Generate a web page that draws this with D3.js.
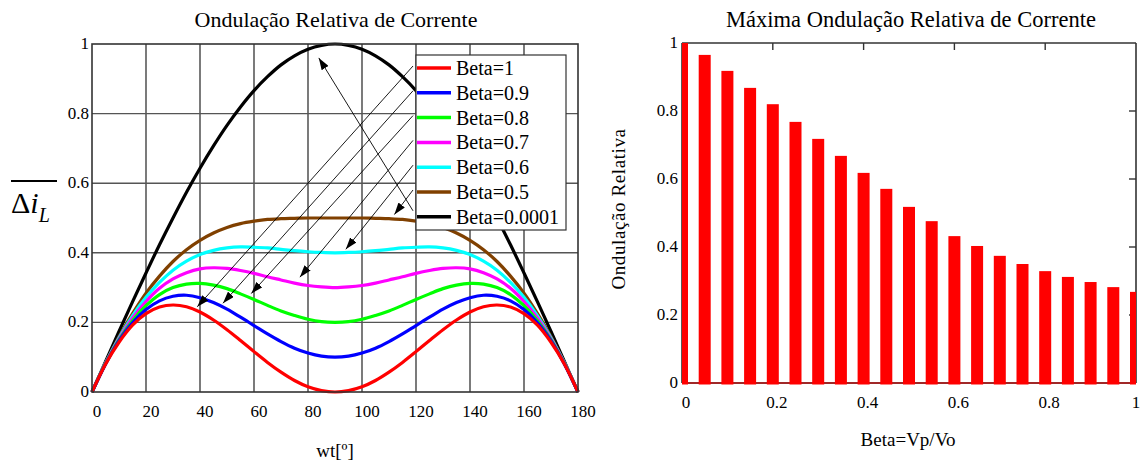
<!DOCTYPE html>
<html><head><meta charset="utf-8">
<script src="https://cdn.jsdelivr.net/npm/d3@7"></script>
<style>
body{margin:0;background:#fff;}
svg{font-family:"Liberation Serif","Times New Roman",serif;}
</style></head>
<body><svg id="c" width="1140" height="461"></svg>
<script>
// ---------- data ----------
const wt = [0,5,10,15,20,25,30,35,40,45,50,55,60,65,70,75,80,85,90,95,100,105,110,115,120,125,130,135,140,145,150,155,160,165,170,175,180];
const betaLabels = ["Beta=1","Beta=0.9","Beta=0.8","Beta=0.7","Beta=0.6","Beta=0.5","Beta=0.0001"];
const beta1   = [0,.080,.143,.192,.225,.244,.250,.245,.230,.207,.179,.148,.116,.085,.057,.033,.015,.004,0,.004,.015,.033,.057,.085,.116,.148,.179,.207,.230,.245,.250,.244,.225,.192,.143,.080,0];
const beta09  = [0,.080,.147,.199,.237,.262,.275,.278,.271,.257,.238,.215,.191,.167,.145,.126,.112,.103,.100,.103,.112,.126,.145,.167,.191,.215,.238,.257,.271,.278,.275,.262,.237,.199,.147,.080,0];
const beta08  = [0,.081,.150,.205,.248,.280,.300,.310,.312,.307,.297,.282,.266,.249,.233,.220,.209,.202,.200,.202,.209,.220,.233,.249,.266,.282,.297,.307,.312,.310,.300,.280,.248,.205,.150,.081,0];
const beta07  = [0,.082,.153,.212,.260,.298,.325,.343,.354,.357,.355,.349,.341,.331,.322,.313,.306,.302,.300,.302,.306,.313,.322,.331,.341,.349,.355,.357,.354,.343,.325,.298,.260,.212,.153,.082,0];
const beta06  = [0,.083,.156,.219,.272,.315,.350,.376,.395,.407,.414,.417,.416,.414,.410,.406,.403,.401,.400,.401,.403,.406,.410,.414,.416,.417,.414,.407,.395,.376,.350,.315,.272,.219,.156,.083,0];
const beta05  = [0,.083,.159,.225,.284,.333,.375,.409,.436,.457,.473,.484,.491,.496,.498,.499,.500,.500,.500,.500,.500,.499,.498,.496,.491,.484,.473,.457,.436,.409,.375,.333,.284,.225,.159,.083,0];
const beta0   = [0,.087,.174,.259,.342,.423,.500,.574,.643,.707,.766,.819,.866,.906,.940,.966,.985,.996,1.000,.996,.985,.966,.940,.906,.866,.819,.766,.707,.643,.574,.500,.423,.342,.259,.174,.087,0];
const curveColors = ["#ff0000","#0000ff","#00ff00","#ff00ff","#00ffff","#804000","#000000"];
const xTicksL = [0,20,40,60,80,100,120,140,160,180];
const yTicksL = [0,0.2,0.4,0.6,0.8,1];

const betaBar = [0,0.05,0.10,0.15,0.20,0.25,0.30,0.35,0.40,0.45,0.50,0.55,0.60,0.65,0.70,0.75,0.80,0.85,0.90,0.95,1.00];
const maxRipple = [1.0,0.965,0.918,0.868,0.820,0.768,0.718,0.668,0.618,0.571,0.518,0.476,0.432,0.403,0.374,0.350,0.329,0.312,0.297,0.282,0.268];
const xTicksR = [0,0.2,0.4,0.6,0.8,1];
const yTicksR = [0,0.2,0.4,0.6,0.8,1];
// arrows: [legend row index, target wt, target value]
const arrowTargets = [[0,39,0.245],[1,48.5,0.255],[2,59,0.283],[3,77,0.33],[4,94,0.41],[5,112,0.51],[6,84,0.96]];

const svg = d3.select("#c");
const fmt = d => d===0?"0":d===1?"1":String(d);

// ---------- left chart ----------
const L = {l:92, r:578, t:44, b:392};
const xL = d3.scaleLinear().domain([0,180]).range([L.l,L.r]);
const yL = d3.scaleLinear().domain([0,1]).range([L.b,L.t]);
const gL = svg.append("g");

// grid
gL.selectAll(".vg").data(xTicksL.slice(1,-1)).enter().append("line")
  .attr("x1",d=>xL(d)).attr("x2",d=>xL(d)).attr("y1",L.t).attr("y2",L.b)
  .attr("stroke","#222").attr("stroke-width",1.2);
gL.selectAll(".hg").data(yTicksL.slice(1,-1)).enter().append("line")
  .attr("x1",L.l).attr("x2",L.r).attr("y1",d=>yL(d)).attr("y2",d=>yL(d))
  .attr("stroke","#555").attr("stroke-width",1.4);

// curves
const series = [beta1,beta09,beta08,beta07,beta06,beta05,beta0];
const line = d3.line().x((d,i)=>xL(wt[i])).y(d=>yL(d)).curve(d3.curveCatmullRom.alpha(0.5));
gL.append("defs").append("clipPath").attr("id","clipL").append("rect")
  .attr("x",L.l-2).attr("y",L.t-2).attr("width",L.r-L.l+4).attr("height",L.b-L.t+4);
const cg = gL.append("g").attr("clip-path","url(#clipL)");
series.slice().reverse().forEach((s,k)=>{
  const i = series.length-1-k;
  cg.append("path").datum(s).attr("d",line).attr("fill","none")
    .attr("stroke",curveColors[i]).attr("stroke-width",3.2);
});

// frame
gL.append("rect").attr("x",L.l).attr("y",L.t).attr("width",L.r-L.l).attr("height",L.b-L.t)
  .attr("fill","none").attr("stroke","#333").attr("stroke-width",1.6);

// ticks labels
gL.selectAll(".xl").data(xTicksL).enter().append("text")
  .attr("x",d=>xL(d)+5).attr("y",L.b+25).attr("text-anchor","middle")
  .attr("font-size",17).text(d=>d);
gL.selectAll(".yl").data(yTicksL).enter().append("text")
  .attr("x",L.l-3).attr("y",d=>yL(d)+5).attr("text-anchor","end")
  .attr("font-size",17).text(fmt);

// legend
const leg = {x:416,y:55,w:150,h:175,row0:68,dy:24.8};
gL.append("rect").attr("x",leg.x).attr("y",leg.y).attr("width",leg.w).attr("height",leg.h)
  .attr("fill","#fff").attr("stroke","#333").attr("stroke-width",1.2);
betaLabels.forEach((lab,i)=>{
  const yy = leg.row0 + i*leg.dy;
  gL.append("line").attr("x1",leg.x+1).attr("x2",leg.x+35).attr("y1",yy).attr("y2",yy)
    .attr("stroke",curveColors[i]).attr("stroke-width",3.5);
  gL.append("text").attr("x",leg.x+40).attr("y",yy+7).attr("font-size",20).text(lab);
});

// arrows
const defs = svg.append("defs");
defs.append("marker").attr("id","ah").attr("viewBox","0 0 12 8").attr("refX",12).attr("refY",4)
  .attr("markerWidth",12).attr("markerHeight",8).attr("markerUnits","userSpaceOnUse").attr("orient","auto")
  .append("path").attr("d","M0,0 L12,4 L0,8 Z").attr("fill","#000");
arrowTargets.forEach(([row,w,v])=>{
  const sx = leg.x - 3, sy = leg.row0 + row*leg.dy - (row===6?4:0) - 2;
  gL.append("line").attr("x1",sx).attr("y1",sy).attr("x2",xL(w)).attr("y2",yL(v))
    .attr("stroke","#000").attr("stroke-width",0.9).attr("marker-end","url(#ah)");
});

// titles
svg.append("text").attr("x",336).attr("y",27).attr("text-anchor","middle").attr("font-size",22)
  .text("Ondulação Relativa de Corrente");
svg.append("text").attr("x",335).attr("y",457).attr("text-anchor","middle").attr("font-size",19)
  .text("wt[º]");
// y label: overline Δi_L
const yl = svg.append("text").attr("x",11).attr("y",213).attr("font-size",30);
yl.append("tspan").text("Δ");
yl.append("tspan").attr("font-style","italic").text("i");
yl.append("tspan").attr("font-style","italic").attr("font-size",20).attr("dy",9).text("L");
svg.append("line").attr("x1",11).attr("x2",57).attr("y1",181).attr("y2",181)
  .attr("stroke","#000").attr("stroke-width",2);

// ---------- right chart ----------
const R = {l:682, r:1136, t:43, b:383};
const xR = d3.scaleLinear().domain([0,1]).range([R.l,R.r]);
const yR = d3.scaleLinear().domain([0,1]).range([R.b,R.t]);
const gR = svg.append("g");
gR.append("defs").append("clipPath").attr("id","clipR").append("rect")
  .attr("x",R.l).attr("y",R.t-1).attr("width",R.r-R.l).attr("height",R.b-R.t+4);

// frame top/right
gR.append("line").attr("x1",R.l).attr("x2",R.r).attr("y1",R.t).attr("y2",R.t).attr("stroke","#333").attr("stroke-width",1.6);
gR.append("line").attr("x1",R.r).attr("x2",R.r).attr("y1",R.t).attr("y2",R.b).attr("stroke","#333").attr("stroke-width",1.6);
gR.append("line").attr("x1",R.l).attr("x2",R.l).attr("y1",R.t).attr("y2",R.b).attr("stroke","#333").attr("stroke-width",1.6);
gR.append("line").attr("x1",R.l).attr("x2",R.r).attr("y1",R.b).attr("y2",R.b).attr("stroke","#a02828").attr("stroke-width",2);
// ticks
gR.selectAll(".tt").data(xTicksR.slice(1,-1)).enter().append("line")
  .attr("x1",d=>xR(d)).attr("x2",d=>xR(d)).attr("y1",R.t).attr("y2",R.t+7).attr("stroke","#333").attr("stroke-width",1.4);
gR.selectAll(".rt").data(yTicksR.slice(1,-1)).enter().append("line")
  .attr("x1",R.r-7).attr("x2",R.r).attr("y1",d=>yR(d)).attr("y2",d=>yR(d)).attr("stroke","#333").attr("stroke-width",1.4);

// bars
const bw = 12;
gR.append("g").attr("clip-path","url(#clipR)").selectAll("rect").data(maxRipple).enter().append("rect")
  .attr("x",(d,i)=>xR(betaBar[i])-bw/2).attr("width",bw)
  .attr("y",d=>yR(d)).attr("height",d=>yR(0)-yR(d)+1.5)
  .attr("fill","#ff0000");

// tick labels
gR.selectAll(".xl").data(xTicksR).enter().append("text")
  .attr("x",d=>Math.min(xR(d)+4,1136)).attr("y",R.b+25).attr("text-anchor","middle").attr("font-size",17).text(fmt);
gR.selectAll(".yl").data(yTicksR).enter().append("text")
  .attr("x",R.l-4).attr("y",d=>yR(d)+5).attr("text-anchor","end").attr("font-size",17).text(fmt);

svg.append("text").attr("x",911).attr("y",27).attr("text-anchor","middle").attr("font-size",22.5)
  .text("Máxima Ondulação Relativa de Corrente");
svg.append("text").attr("x",908).attr("y",446).attr("text-anchor","middle").attr("font-size",19)
  .text("Beta=Vp/Vo");
svg.append("text").attr("transform","translate(625,209) rotate(-90)").attr("text-anchor","middle")
  .attr("font-size",19).attr("letter-spacing",0.6).text("Ondulação Relativa");
</script></body></html>
